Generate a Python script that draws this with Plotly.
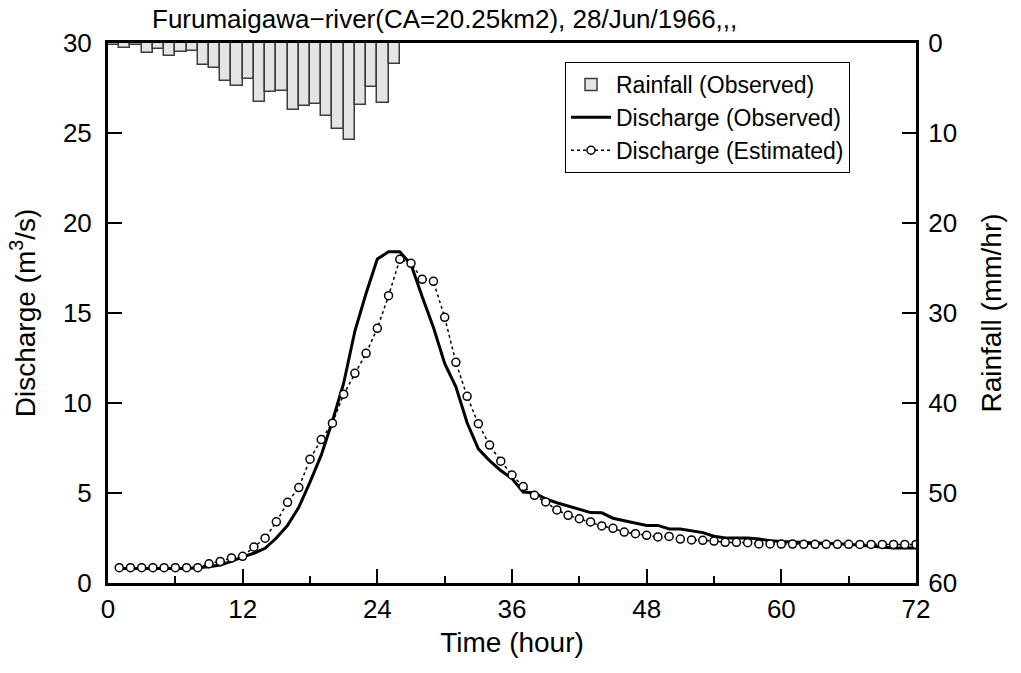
import plotly.graph_objects as go

hours = list(range(1, 73))

discharge_observed = [0.8, 0.8, 0.8, 0.8, 0.8, 0.8, 0.8, 0.85, 0.9, 1.0,
                      1.2, 1.45, 1.65, 1.93, 2.5, 3.2, 4.2, 5.6, 7.1, 9.0,
                      11.1, 14.0, 16.1, 18.0, 18.4, 18.4, 17.7, 15.9, 14.2, 12.2,
                      10.9, 8.9, 7.45, 6.8, 6.25, 5.8, 5.05, 5.0, 4.67, 4.46,
                      4.28, 4.09, 3.91, 3.9, 3.6, 3.46, 3.35, 3.2, 3.2, 3.0,
                      3.0, 2.9, 2.8, 2.6, 2.5, 2.5, 2.5, 2.45, 2.35, 2.3,
                      2.28, 2.25, 2.22, 2.2, 2.2, 2.15, 2.1, 2.05, 1.97, 1.95,
                      1.95, 1.95]

discharge_estimated = [0.85, 0.85, 0.85, 0.85, 0.85, 0.85, 0.85, 0.85, 1.07, 1.2,
                       1.39, 1.48, 2.0, 2.49, 3.4, 4.48, 5.3, 6.88, 7.97, 8.88,
                       10.49, 11.65, 12.76, 14.15, 15.96, 17.98, 17.76, 16.87, 16.76, 14.76,
                       12.26, 10.37, 8.85, 7.66, 6.77, 6.0, 5.36, 4.87, 4.5, 4.06,
                       3.76, 3.57, 3.39, 3.17, 3.04, 2.83, 2.74, 2.65, 2.56, 2.59,
                       2.44, 2.39, 2.37, 2.33, 2.26, 2.26, 2.24, 2.17, 2.17, 2.16,
                       2.16, 2.15, 2.15, 2.15, 2.15, 2.15, 2.14, 2.14, 2.14, 2.14,
                       2.14, 2.14]

rain_hours = list(range(1, 27))
rainfall = [0.2, 0.5, 0.2, 1.1, 0.7, 1.4, 1.0, 0.9, 2.4, 2.8,
            4.2, 4.8, 4.0, 6.5, 5.4, 5.3, 7.4, 7.0, 6.8, 8.1,
            9.5, 10.8, 6.9, 4.9, 6.7, 2.3]

x_ticks = [0, 12, 24, 36, 48, 60, 72]
q_ticks = [0, 5, 10, 15, 20, 25, 30]
r_ticks = [0, 10, 20, 30, 40, 50, 60]

title_text = "Furumaigawa\u2212river(CA=20.25km2), 28/Jun/1966,,,"

FONT = "Liberation Sans, Arial, sans-serif"
TICK_SIZE = 26
AXT_SIZE = 28

fig = go.Figure()

fig.add_trace(go.Bar(
    x=[h - 0.5 for h in rain_hours], y=rainfall, width=1.0,
    name="Rainfall (Observed)", yaxis="y2",
    marker=dict(color="#e4e4e4", line=dict(color="#3c3c3c", width=1.5)),
))

fig.add_trace(go.Scatter(
    x=hours, y=discharge_observed, mode="lines",
    name="Discharge (Observed)",
    line=dict(color="black", width=3),
))

fig.add_trace(go.Scatter(
    x=hours, y=discharge_estimated, mode="lines+markers",
    name="Discharge (Estimated)",
    line=dict(color="black", width=1.5, dash="dot"),
    marker=dict(symbol="circle", size=8, color="white",
                line=dict(color="black", width=1.5)),
))

fig.update_layout(
    width=1021, height=673,
    margin=dict(l=108, r=105, t=43, b=90),
    paper_bgcolor="white", plot_bgcolor="white",
    font=dict(family=FONT, size=22, color="black"),
    bargap=0,
    title=dict(text=title_text, x=(152 - 108) / 808, xref="paper", xanchor="left",
               y=1 - 19 / 673, yref="container", yanchor="middle",
               font=dict(family=FONT, size=26, color="black")),
    xaxis=dict(
        range=[0, 72], tickvals=x_ticks, ticks="inside", ticklen=14, tickwidth=1.5,
        tickcolor="black", showline=True, linewidth=3, linecolor="black", mirror=True,
        showgrid=False, zeroline=False, ticklabelstandoff=1,
        minor=dict(ticks="inside", ticklen=7, tickwidth=1.5, tickcolor="black", dtick=6, tick0=0, showgrid=False),
        title=dict(text="Time (hour)", font=dict(size=AXT_SIZE), standoff=10),
        tickfont=dict(size=TICK_SIZE),
    ),
    yaxis=dict(
        range=[0, 30], tickvals=q_ticks, ticks="inside", ticklen=14, tickwidth=1.5,
        tickcolor="black", showline=True, linewidth=3, linecolor="black", mirror=True,
        showgrid=False, zeroline=False, ticklabelstandoff=8,
        title=dict(text="Discharge (m<sup>3</sup>/s)", font=dict(size=AXT_SIZE), standoff=20),
        tickfont=dict(size=TICK_SIZE),
    ),
    yaxis2=dict(
        range=[60, 0], tickvals=r_ticks, overlaying="y", side="right",
        ticks="inside", ticklen=14, tickwidth=1.5, tickcolor="black",
        showline=True, linewidth=3, linecolor="black",
        showgrid=False, zeroline=False, ticklabelstandoff=4,
        title=dict(text="Rainfall (mm/hr)", font=dict(size=AXT_SIZE), standoff=26),
        tickfont=dict(size=TICK_SIZE),
    ),
    legend=dict(
        x=(565 - 108) / 808, y=(583 - 62) / 540, xanchor="left", yanchor="top",
        bgcolor="white", bordercolor="black", borderwidth=1,
        font=dict(family=FONT, size=23, color="black"),
        traceorder="normal", itemwidth=40,
    ),
)

fig.write_html("out.html")
